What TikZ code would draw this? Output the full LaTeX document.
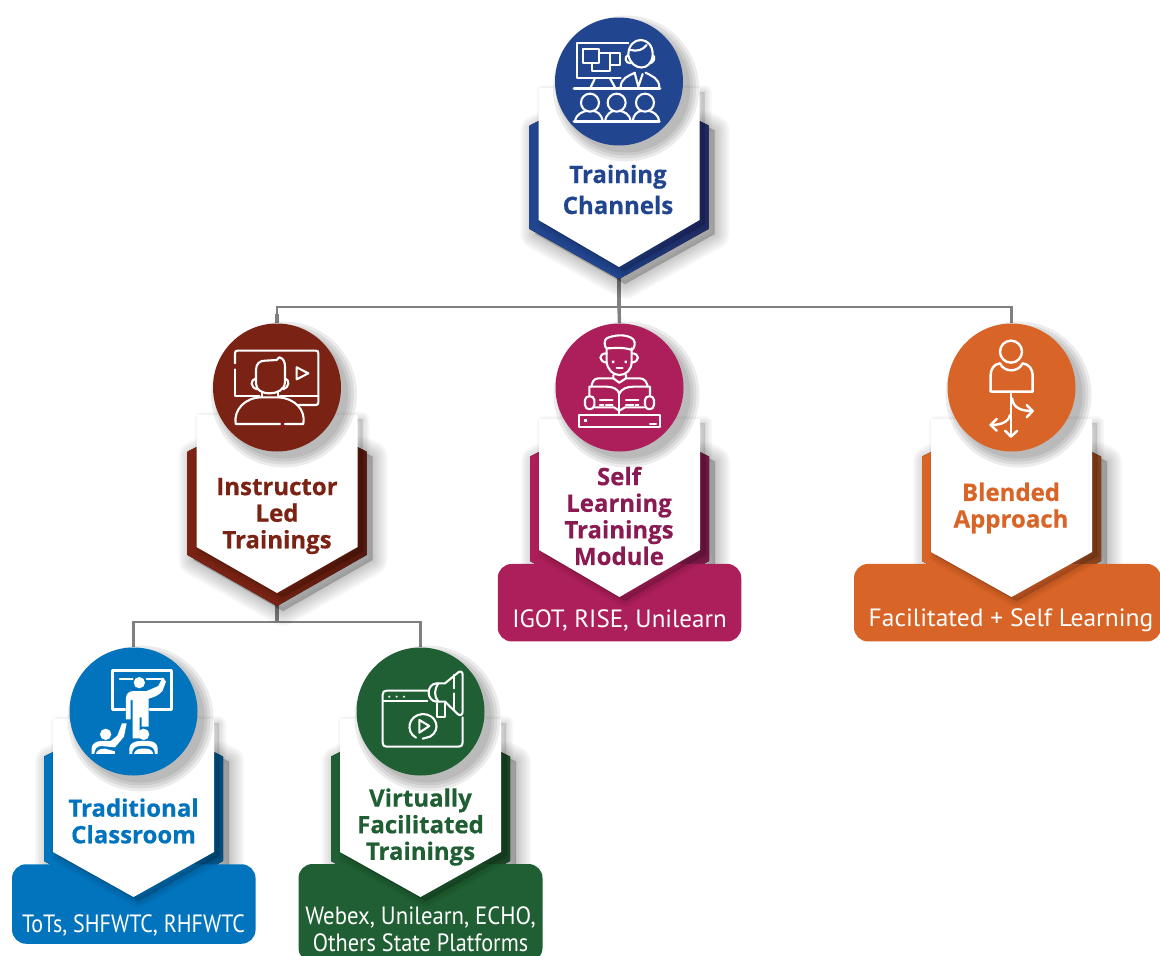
\documentclass[tikz,border=0pt]{standalone}
\usepackage{fontspec}
\setmainfont{PT Sans}
\newfontfamily\titlefont[BoldFeatures={FakeBold=0.5}]{Open Sans}
\definecolor{tA}{HTML}{21458F}\definecolor{tB}{HTML}{232F6B}
\definecolor{iA}{HTML}{7A2314}\definecolor{iB}{HTML}{5E1C11}
\definecolor{sA}{HTML}{AD1F5A}\definecolor{sB}{HTML}{7A1A48}\definecolor{sT}{HTML}{8A1A52}
\definecolor{bA}{HTML}{D96427}\definecolor{bB}{HTML}{8F4620}
\definecolor{cA}{HTML}{0274BD}\definecolor{cB}{HTML}{04578A}
\definecolor{vA}{HTML}{1F5F33}\definecolor{vB}{HTML}{1C4B2A}
\definecolor{lineg}{HTML}{808080}
\newcommand\softsh[4]{\foreach \w in {#4}{\path[draw=black,fill=black,line join=round,line width=\w pt,draw opacity=#3,fill opacity=#3,shift={(#1,#2)}] \shp;}}
\newcommand\cardbody[6]{%
  \def\shp{(#1-80.5,#2) -- (#1-89.5,#2+4.5) -- (#1-89.5,#3) -- (#1,#4) -- (#1+89.5,#3) -- (#1+89.5,#2+4.5) -- (#1+80.5,#2) -- cycle}%
  \softsh{6}{5}{.03}{30,26,22,18,14,10,6,2}%
  \fill[left color=#5,right color=#6,middle color=#5] \shp;}
\newcommand\cardwhite[4]{%
  \def\shp{(#1-80.5,#2) -- (#1-80.5,#3) -- (#1,#4) -- (#1+80.5,#3) -- (#1+80.5,#2) -- cycle}%
  \softsh{5}{4}{.028}{14,11,8,5,2}%
  \fill[white] \shp;}
\newcommand\discshadow[2]{\foreach \r in {73,70,67,64}{\fill[black,opacity=.075] (#1+7,#2+7) circle[radius=\r];}}
\newcommand\sx[2]{\scalebox{#1}[1]{#2}}
\tikzset{
  x=1pt,y=-1pt,
  disc/.style={circle,minimum size=128pt,inner sep=0pt,fill=#1},
  bar/.style={fill=#1,rounded corners=14pt},
  title/.style={font=\titlefont\fontsize{24}{26.6}\selectfont\bfseries,align=center,inner sep=0pt,text=#1},
  sub/.style={font=\fontsize{25}{27}\selectfont,align=center,inner sep=0pt,text=white},
  bus/.style={draw=lineg,line width=2.2pt},
  trunk/.style={draw=lineg,line width=3.4pt},
  ico/.style={draw=white,line width=2.1pt,line cap=round,line join=round},
  icoz/.style={shift={#1},x=0.3333pt,y=-0.3333pt},
}
\begin{document}
\begin{tikzpicture}
\useasboundingbox (0,0) rectangle (1160,956);
\clip (0,0) rectangle (1160,956);
% named anchors
\coordinate (tipT) at (619,278);
\coordinate (tipI) at (277,605);
\coordinate (busT) at (619,307);
\coordinate (busI) at (277,622);
\path (619,81.5) node[disc=none] (dT) {};
\path (277,387.5) node[disc=none] (dI) {};
\path (619.5,387.5) node[disc=none] (dS) {};
\path (1011.5,387.5) node[disc=none] (dB) {};
\path (133.5,711.5) node[disc=none] (dC) {};
\path (420.5,711.5) node[disc=none] (dV) {};
% connectors
\draw[trunk] (tipT) -- (busT);
\draw[trunk] (busT) -- (dS.north);
\draw[bus] (dI.north) |- (busT) -| (dB.north);
\draw[trunk] (dI.north) -- ++(0,-9);
\draw[trunk] (dB.north) -- ++(0,-9);
\draw[trunk] (tipI) -- (busI);
\draw[bus] (dC.north) |- (busI) -| (dV.north);
\draw[trunk] (dC.north) -- ++(0,-9);
\draw[trunk] (dV.north) -- ++(0,-9);
% Training channels
\cardbody{619}{121}{229}{279}{tA}{tB}
\cardwhite{619}{88}{220}{267}
\discshadow{619}{81.5}
\node[disc=tA] (dT2) at (dT) {};
\node[title=tA,font=\titlefont\fontsize{24}{31}\selectfont\bfseries] (tT) at (618,189.5) {Training\\Channels};
% Instructor
\cardbody{277}{447}{555}{606}{iA}{iB}
\cardwhite{277}{415}{547}{593}
\discshadow{277}{387.5}
\node[disc=iA] (dI2) at (dI) {};
\node[title=iA] (tI) at (277,516) {Instructor\\Led\\Trainings};
% Self
\cardbody{619.5}{452}{561}{611}{sA}{sB}
\node[bar=sA,minimum width=243.5pt,minimum height=77.5pt,inner sep=0pt] (bS) at (619.5,602.7) {};
\cardwhite{619.5}{419}{550}{597}
\discshadow{619.5}{387.5}
\node[disc=sA] (dS2) at (dS) {};
\node[title=sT] (tS) at (619,516) {Self\\Learning\\Trainings\\Module};
\node[sub] (sS) at (619.5,620) {IGOT, RISE, Unilearn};
% Blended
\cardbody{1011.5}{452}{561}{611}{bA}{bB}
\node[bar=bA,minimum width=307pt,minimum height=77.5pt,inner sep=0pt] (bB1) at (1007.5,602.7) {};
\cardwhite{1011.5}{419}{552}{597}
\discshadow{1011.5}{387.5}
\node[disc=bA] (dB2) at (dB) {};
\node[title=bA] (tB1) at (1011,508) {Blended\\Approach};
\node[sub] (sB1) at (1011,620) {\sx{1.02}{Facilitated + Self Learning}};
% Traditional
\cardbody{133.5}{752}{861}{911}{cA}{cB}
\node[bar=cA,minimum width=243.5pt,minimum height=79.5pt,inner sep=0pt] (bC) at (133.8,904) {};
\cardwhite{133.5}{719}{852}{897}
\discshadow{133.5}{711.5}
\node[disc=cA] (dC2) at (dC) {};
\node[title=cA] (tC) at (133.5,821) {Traditional\\Classroom};
\node[sub] (sC) at (133.5,925) {\sx{.88}{ToTs, SHFWTC, RHFWTC}};
% Virtual
\cardbody{420.5}{752}{861}{911}{vA}{vB}
\node[bar=vA,minimum width=244pt,minimum height=98pt,inner sep=0pt] (bV) at (420.5,913) {};
\cardwhite{420.5}{719}{852}{897}
\discshadow{420.5}{711.5}
\node[disc=vA] (dV2) at (dV) {};
\node[title=vA] (tV) at (420.5,827) {Virtually\\Facilitated\\Trainings};
\node[sub] (sV) at (420.5,929) {\sx{.91}{Webex, Unilearn, ECHO,}\\\sx{.89}{Others State Platforms}};
% ---- icon: training
\begin{scope}[icoz={(500,0)},ico]
\draw (385,128) -- (232,128) -- (232,235) -- (362,235);
\draw (250,148) rectangle (298,190);
\draw (298,160) -- (360,160) -- (360,195) -- (330,195);
\draw (275,190) -- (275,212) -- (330,212) -- (330,160);
\draw (285,235) -- (272,262) (330,235) -- (345,262);
\draw[line width=2.6pt] (222,265) -- (480,265);
\draw (385,165) .. controls (385,105) and (460,105) .. (458,165) .. controls (455,215) and (395,215) .. (385,165);
\draw (385,165) .. controls (372,170) and (375,190) .. (392,190);
\draw (458,165) .. controls (468,170) and (462,190) .. (448,190);
\draw (392,150) .. controls (410,155) and (430,150) .. (440,135);
\draw (362,262) .. controls (362,235) and (385,228) .. (405,218);
\draw (478,262) .. controls (478,235) and (455,228) .. (437,218);
\draw (405,222) -- (415,260) -- (428,222);
\foreach \c in {270,350,435}{\draw (\c,308) circle[radius=27];}
\draw (225,365) .. controls (228,340) and (250,335) .. (262,332);
\draw (308,365) .. controls (305,340) and (290,335) .. (278,332);
\draw (315,365) .. controls (318,340) and (335,335) .. (342,332);
\draw (392,365) .. controls (390,340) and (370,335) .. (358,332);
\draw (398,365) .. controls (400,345) and (410,335) .. (425,332);
\draw (478,365) .. controls (476,345) and (460,335) .. (445,332);
\draw[line width=2.6pt] (222,365) -- (478,365);
\end{scope}
% ---- icon: instructor
\begin{scope}[icoz={(170,310)},ico]
\draw (195,160) -- (195,130) .. controls (195,124) and (197,122) .. (203,122) -- (437,122) .. controls (443,122) and (445,124) .. (445,130) -- (445,277) .. controls (445,283) and (443,285) .. (437,285) -- (385,285);
\draw (195,178) -- (195,257) -- (268,257) (330,257) -- (445,257);
\draw (258,220) -- (258,180) .. controls (258,160) and (270,152) .. (285,152) -- (320,150) -- (328,142) .. controls (340,145) and (345,155) .. (345,170) -- (345,215) .. controls (345,240) and (320,250) .. (300,250) .. controls (275,250) and (258,240) .. (258,220);
\draw (258,205) .. controls (240,210) and (240,232) .. (262,238);
\draw (345,205) .. controls (360,210) and (358,232) .. (340,238);
\draw (275,245) -- (275,262) (325,245) -- (325,262);
\draw (330,342) -- (197,342) .. controls (190,300) and (225,262) .. (275,262) -- (325,262) .. controls (375,265) and (408,300) .. (400,342) -- (345,342);
\draw (380,172) -- (415,190) -- (380,208) -- cycle;
\end{scope}
% ---- icon: self
\begin{scope}[icoz={(490,320)},ico]
\draw (350,85) -- (350,125) .. controls (352,150) and (370,165) .. (388,165) .. controls (408,165) and (425,150) .. (425,125) -- (425,85);
\draw (350,85) .. controls (342,80) and (342,60) .. (350,55) .. controls (370,45) and (410,40) .. (430,58) .. controls (437,65) and (435,85) .. (425,90) .. controls (400,80) and (370,85) .. (350,85);
\draw (350,100) .. controls (325,100) and (325,125) .. (350,128);
\draw (425,100) .. controls (450,100) and (450,125) .. (425,128);
\draw (380,145) -- (398,145);
\fill[white] (366,122) rectangle (373,129) (404,122) rectangle (411,129);
\draw (370,165) -- (370,175) -- (388,188) -- (408,175) -- (408,165);
\draw (370,175) -- (325,175) .. controls (310,175) and (305,190) .. (305,200);
\draw (408,175) -- (450,175) .. controls (465,175) and (472,190) .. (473,200);
\draw (298,228) -- (298,200) -- (350,200) .. controls (370,200) and (385,208) .. (388,222) .. controls (392,208) and (410,200) .. (430,200) -- (480,200) -- (480,228);
\draw (388,222) -- (388,283);
\draw (315,262) -- (372,262) -- (388,272) -- (405,262) -- (462,262);
\draw (285,240) .. controls (285,225) and (313,225) .. (313,240) -- (313,255) .. controls (313,272) and (285,272) .. (285,255) -- cycle;
\draw (465,240) .. controls (465,225) and (492,225) .. (492,240) -- (492,255) .. controls (492,272) and (465,272) .. (465,255) -- cycle;
\draw (266,285) rectangle (510,320);
\fill[white] (283,297) rectangle (291,305);
\draw (480,312) -- (498,312);
\draw (330,240) -- (368,240) (330,255) -- (340,255) (348,255) -- (368,255);
\draw (408,240) -- (445,240) (408,255) -- (430,255) (437,255) -- (445,255);
\end{scope}
% ---- icon: blended
\begin{scope}[icoz={(900,320)},ico,line width=2.4pt]
\draw (333,95) circle[radius=33];
\draw (300,130) .. controls (280,132) and (272,150) .. (272,165) -- (272,215) -- (398,215) -- (398,165) .. controls (398,150) and (388,132) .. (368,130) .. controls (355,158) and (312,158) .. (300,130) -- cycle;
\draw (333,215) -- (333,348);
\draw (315,332) -- (333,350) -- (352,332);
\draw (330,285) .. controls (325,308) and (300,315) .. (272,315);
\draw (290,297) -- (272,315) -- (290,332);
\draw (336,235) .. controls (340,265) and (365,273) .. (398,273);
\draw (380,255) -- (398,273) -- (380,292);
\end{scope}
% ---- icon: classroom
\begin{scope}[icoz={(40,640)},ico,line width=2.1pt]
\draw[line width=3pt] (255,208) -- (218,208) -- (218,92) -- (395,92) -- (395,208) -- (330,208);
\draw (240,118) -- (278,118) (320,118) -- (370,118);
\fill[white,draw=none] (298,128) circle[radius=17];
\fill[white,draw=none] (258,238) -- (258,175) .. controls (258,160) and (268,153) .. (282,153) -- (320,153) -- (355,138) -- (368,112) -- (378,125) -- (368,152) .. controls (355,168) and (340,172) .. (326,176) -- (326,260) -- (305,260) -- (305,232) -- (299,232) -- (299,295) -- (278,295) -- (278,180) -- (272,180) -- (272,238) -- cycle;
\fill[white,draw=none] (197,283) circle[radius=17] (311,283) circle[radius=17];
\fill[white,draw=none] (155,342) -- (155,325) .. controls (155,310) and (170,303) .. (185,303) -- (212,303) -- (232,287) -- (246,250) -- (260,250) -- (252,290) -- (225,322) -- (185,318) .. controls (170,318) and (164,328) .. (163,342) -- cycle;
\fill[white,draw=none] (168,342) .. controls (170,330) and (180,326) .. (195,326) -- (225,334) -- (225,342) -- cycle;
\fill[white,draw=none] (268,342) -- (268,325) .. controls (268,310) and (285,303) .. (300,303) -- (325,303) .. controls (342,303) and (353,312) .. (353,325) -- (353,342) -- (345,342) .. controls (345,325) and (335,318) .. (320,318) -- (300,318) .. controls (285,318) and (276,328) .. (276,342) -- cycle;
\fill[white,draw=none] (282,342) .. controls (284,332) and (292,326) .. (305,326) -- (318,326) .. controls (330,326) and (338,332) .. (340,342) -- cycle;
\end{scope}
% ---- icon: virtual
\begin{scope}[icoz={(330,640)},ico]
\draw (292,152) -- (170,152) .. controls (162,152) and (158,156) .. (158,164) -- (158,308) .. controls (158,316) and (162,320) .. (170,320) -- (386,320) .. controls (394,320) and (398,316) .. (398,308) -- (398,232);
\draw (158,183) -- (292,183);
\fill[white] (178,170) circle[radius=3.5] (200,170) circle[radius=3.5] (222,170) circle[radius=3.5];
\draw (258,293) .. controls (225,275) and (235,225) .. (278,222) .. controls (320,222) and (335,270) .. (300,290) -- (278,296);
\draw (268,240) -- (298,258) -- (268,278) -- cycle;
\draw (345,130) -- (385,97) .. controls (392,92) and (398,95) .. (398,105) -- (398,215) .. controls (398,225) and (390,228) .. (383,222) -- (345,185);
\draw (345,130) -- (320,130) .. controls (288,132) and (288,183) .. (320,185) -- (345,185);
\draw (325,130) .. controls (312,150) and (312,168) .. (325,185);
\draw (372,105) -- (372,145) (372,160) -- (372,210);
\draw (322,190) -- (322,230) -- (345,230) -- (345,190);
\end{scope}
\end{tikzpicture}
\end{document}
